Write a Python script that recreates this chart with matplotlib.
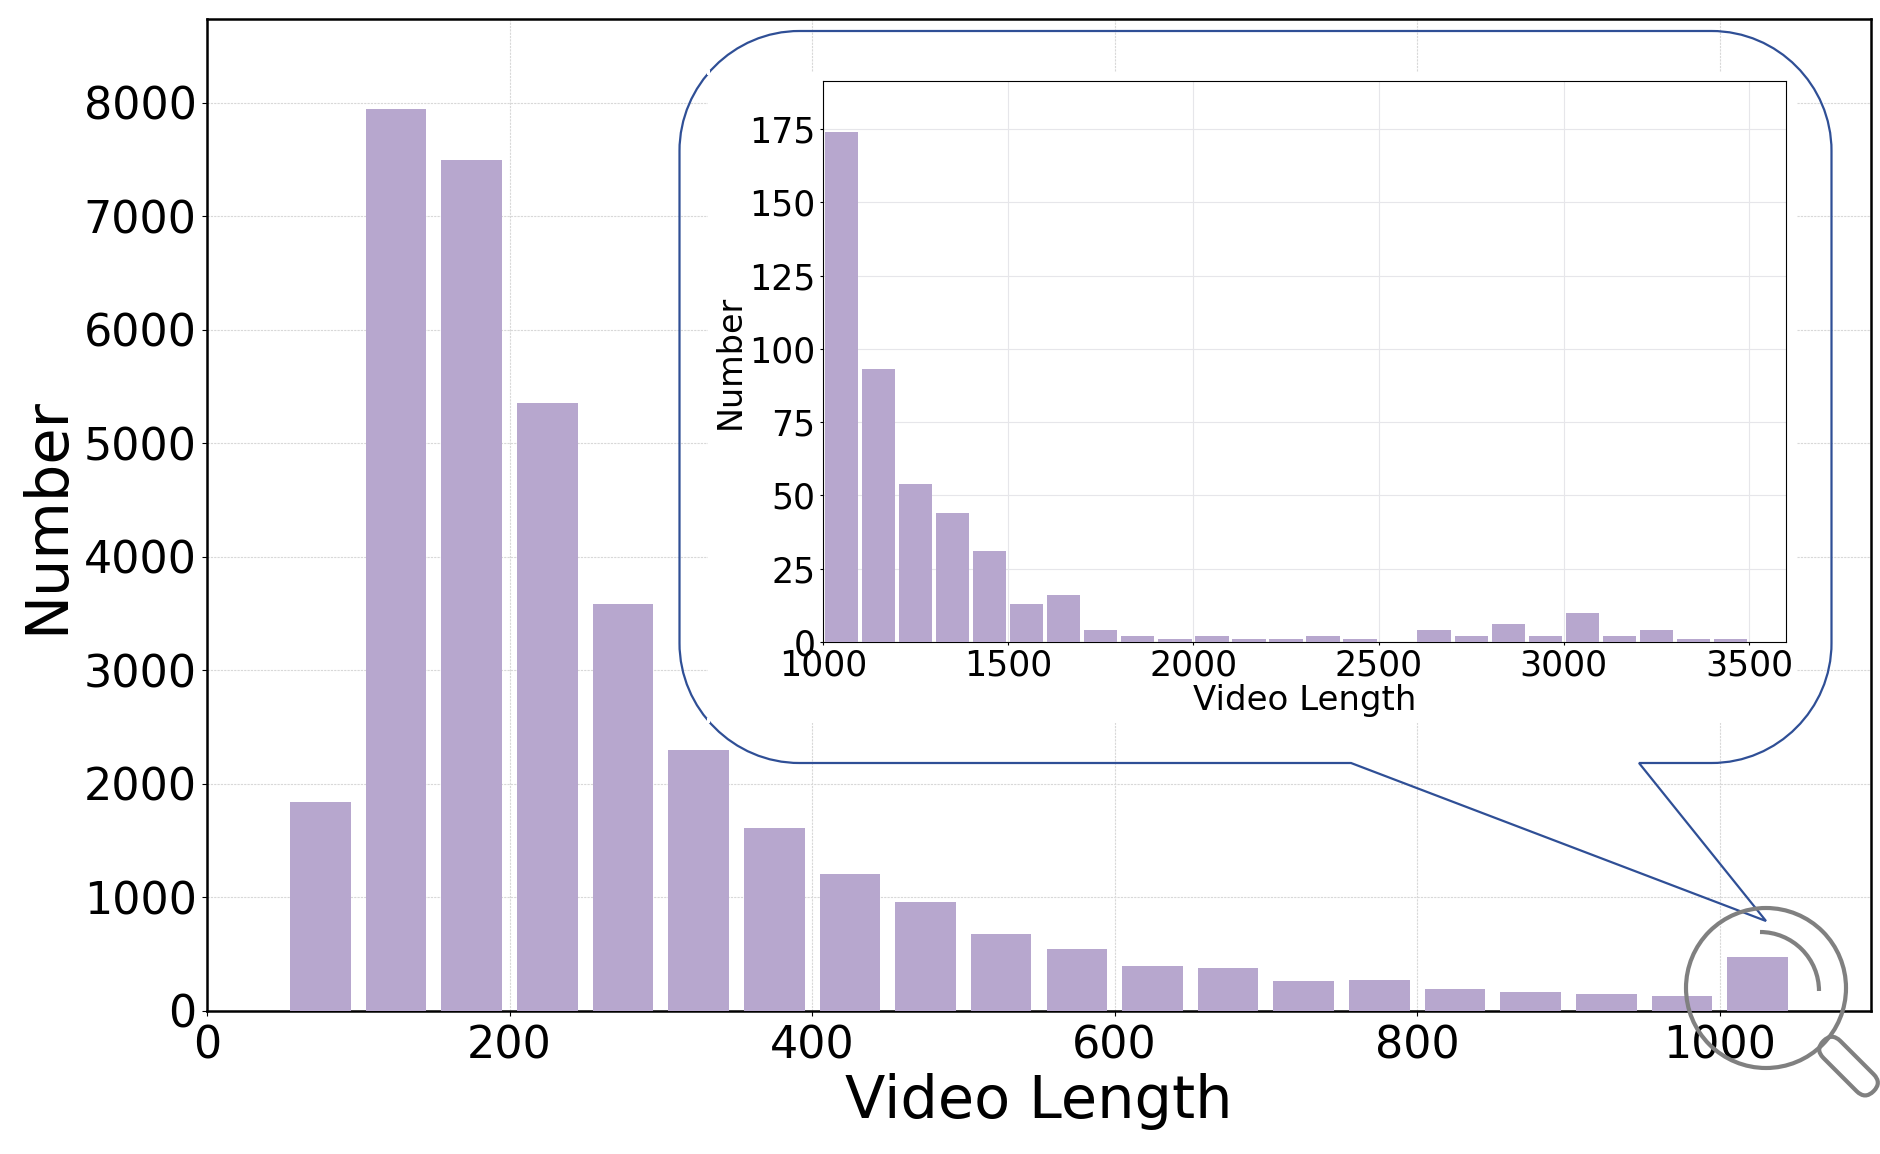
import matplotlib
matplotlib.use('Agg')
import matplotlib.pyplot as plt
from matplotlib.path import Path
from matplotlib.patches import PathPatch, Circle, Arc, FancyBboxPatch, Rectangle
import matplotlib.transforms as mtrans

W, H = 1881, 1154

# --- Data ---
MAIN_CENTERS = [75, 125, 175, 225, 275, 325, 375, 425, 475, 525,
                575, 625, 675, 725, 775, 825, 875, 925, 975, 1025]
MAIN_COUNTS = [1840, 7950, 7500, 5360, 3590, 2300, 1610, 1210, 960, 680,
               550, 400, 380, 260, 270, 190, 170, 150, 130, 480]
INSET_CENTERS = [1050, 1150, 1250, 1350, 1450, 1550, 1650, 1750, 1850, 1950,
                 2050, 2150, 2250, 2350, 2450, 2550, 2650, 2750, 2850, 2950,
                 3050, 3150, 3250, 3350, 3450]
INSET_COUNTS = [174, 93, 54, 44, 31, 13, 16, 4, 2, 1, 2, 1, 1, 2, 1, 0,
                4, 2, 6, 2, 10, 2, 4, 1, 1]
MAIN_XTICKS = [0, 200, 400, 600, 800, 1000]
MAIN_YTICKS = [0, 1000, 2000, 3000, 4000, 5000, 6000, 7000, 8000]
INSET_XTICKS = [1000, 1500, 2000, 2500, 3000, 3500]
INSET_YTICKS = [0, 25, 50, 75, 100, 125, 150, 175]

BAR_COLOR = '#b7a7ce'
GRID_COLOR = '#d8d8d8'
BLUE = '#2f4f96'
GRAY = '#808080'


def axes_box(left, top, right, bottom):
    """Axes rectangle from pixel edges."""
    return [left / W, 1 - bottom / H, (right - left) / W, (bottom - top) / H]


fig = plt.figure(figsize=(W / 100, H / 100), dpi=100)

# pixel coordinates, y going down
px = mtrans.Affine2D().scale(1, -1).translate(0, H)

# --- Main chart ---
ax = fig.add_axes(axes_box(207, 19, 1871, 1011))
ax.bar(MAIN_CENTERS, MAIN_COUNTS, width=40, color=BAR_COLOR, zorder=3)
ax.set_xlim(0, 1100)
ax.set_ylim(0, 8740)
ax.set_xticks(MAIN_XTICKS)
ax.set_yticks(MAIN_YTICKS)
ax.tick_params(axis='x', labelsize=32, length=3.5, pad=6.5)
ax.tick_params(axis='y', labelsize=32, length=3.5, pad=3.8)
ax.grid(True, linestyle=(0, (2, 1)), linewidth=0.8, color=GRID_COLOR, zorder=0)
ax.set_xlabel('Video Length', fontsize=42.5, labelpad=3.5)
ax.set_ylabel('Number', fontsize=42.5, labelpad=6)
for s in ax.spines.values():
    s.set_linewidth(1.8)

# --- White panel that hides the grid behind the inset ---
fig.add_artist(Rectangle((708, 72), 1089, 651, transform=px, facecolor='white',
                         edgecolor='none', zorder=2))

# --- Callout outline ---
L, T, R, B, r = 679.5, 31, 1831.5, 763, 120
k = 0.45
verts = [(L + r, T), (R - r, T),
         (R - r * k, T), (R, T + r * k), (R, T + r),
         (R, B - r),
         (R, B - r * k), (R - r * k, B), (R - r, B),
         (1639, B), (1766, 921), (1351, B),
         (L + r, B),
         (L + r * k, B), (L, B - r * k), (L, B - r),
         (L, T + r),
         (L, T + r * k), (L + r * k, T), (L + r, T)]
codes = [Path.MOVETO, Path.LINETO,
         Path.CURVE4, Path.CURVE4, Path.CURVE4,
         Path.LINETO,
         Path.CURVE4, Path.CURVE4, Path.CURVE4,
         Path.LINETO, Path.LINETO, Path.LINETO,
         Path.LINETO,
         Path.CURVE4, Path.CURVE4, Path.CURVE4,
         Path.LINETO,
         Path.CURVE4, Path.CURVE4, Path.CURVE4]
fig.add_artist(PathPatch(Path(verts, codes), transform=px, facecolor='none',
                         edgecolor=BLUE, linewidth=1.6, zorder=4))

# small nicks in the outline at the panel corners
for nick_y in (70, 718):
    fig.add_artist(Rectangle((707, nick_y), 3, 5, transform=px, facecolor='white',
                             edgecolor='none', zorder=4.5))

# --- Inset chart ---
axin = fig.add_axes(axes_box(823, 81, 1786, 642), zorder=5)
axin.bar(INSET_CENTERS, INSET_COUNTS, width=90, color=BAR_COLOR, zorder=3)
axin.set_xlim(1000, 3600)
axin.set_ylim(0, 191.4)
axin.set_xticks(INSET_XTICKS)
axin.set_yticks(INSET_YTICKS)
axin.tick_params(axis='x', labelsize=25, length=2, pad=3)
axin.tick_params(axis='y', labelsize=25, length=2, pad=3.5)
axin.grid(True, linewidth=0.8, color='#e6e6ea', zorder=0)
axin.set_xlabel('Video Length', fontsize=24.5, labelpad=0.5)
axin.set_ylabel('Number', fontsize=24, labelpad=1.5)

# --- Magnifying glass ---
fig.add_artist(Circle((1766, 988), 80, transform=px, facecolor='none',
                      edgecolor=GRAY, linewidth=3, zorder=6))
fig.add_artist(Arc((1760, 991), 118, 118, theta1=-90, theta2=0, transform=px,
                   edgecolor=GRAY, linewidth=3, zorder=6))
handle = FancyBboxPatch((0, -12), 71, 24, boxstyle='round,pad=0,rounding_size=12',
                        facecolor='none', edgecolor=GRAY, linewidth=3, zorder=6,
                        transform=mtrans.Affine2D().rotate_deg(45).translate(1823.4, 1041) + px)
fig.add_artist(handle)

fig.savefig('out.png', dpi=100)
